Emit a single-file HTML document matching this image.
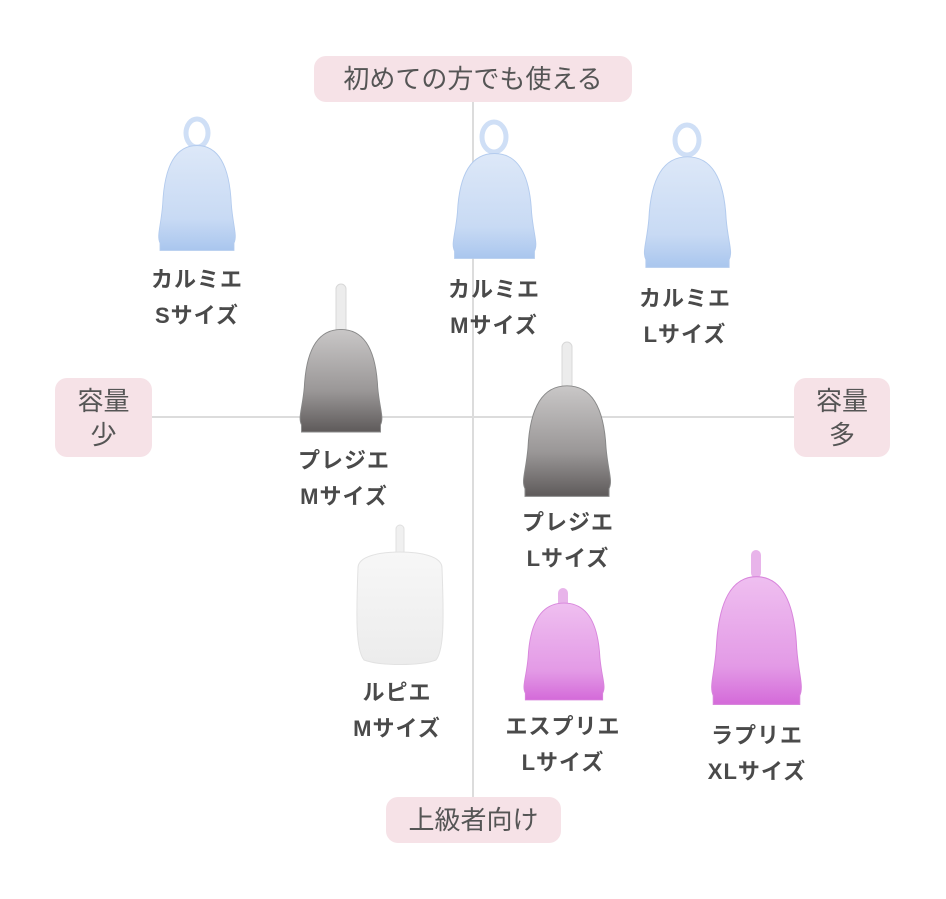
<!DOCTYPE html>
<html><head><meta charset="utf-8"><style>
body{margin:0;background:#fff;}
.w{position:relative;width:946px;height:899px;overflow:hidden;font-family:"Liberation Sans","Noto Sans CJK JP",sans-serif;}
svg{position:absolute;left:0;top:0;}
.pill{position:absolute;background:#f6e2e7;border-radius:12px;color:#555;font-size:26px;text-align:center;line-height:34px;}
.lb{position:absolute;width:140px;margin-left:-70px;text-align:center;color:#4a4a4a;font-size:22px;line-height:36px;font-weight:bold;letter-spacing:1px;}
</style></head><body><div class="w">
<svg width="946" height="899">
<defs>
<linearGradient id="bl" x1="0" y1="0" x2="0" y2="1"><stop offset="0" stop-color="#dde8f8"/><stop offset="0.7" stop-color="#c8daf4"/><stop offset="1" stop-color="#a9c6ee"/></linearGradient>
<linearGradient id="gr" x1="0" y1="0" x2="0" y2="1"><stop offset="0" stop-color="#c9c7c7"/><stop offset="0.6" stop-color="#9a9797"/><stop offset="1" stop-color="#5e5a5a"/></linearGradient>
<linearGradient id="wh" x1="0" y1="0" x2="0" y2="1"><stop offset="0" stop-color="#f7f7f7"/><stop offset="1" stop-color="#ececec"/></linearGradient>
<linearGradient id="pk" x1="0" y1="0" x2="0" y2="1"><stop offset="0" stop-color="#efbff0"/><stop offset="0.7" stop-color="#e39ae6"/><stop offset="1" stop-color="#d46ad9"/></linearGradient>
<path id="cup" d="M8 112 C4 104 9 94 11 70 C13 28 26 6 50 6 C74 6 87 28 89 70 C91 94 96 104 92 112 L92 120 L8 120 Z"/>
</defs>
<line x1="473" y1="100" x2="473" y2="800" stroke="#dcdcdc" stroke-width="2"/>
<line x1="150" y1="417" x2="795" y2="417" stroke="#dcdcdc" stroke-width="2"/>
<ellipse cx="197" cy="133" rx="11" ry="14" fill="none" stroke="#cfdff6" stroke-width="5"/>
<use href="#cup" transform="translate(153,140) scale(0.88,0.92)" fill="url(#bl)" stroke="#b3cbee"/>
<ellipse cx="494" cy="137" rx="12" ry="15" fill="none" stroke="#cfdff6" stroke-width="5"/>
<use href="#cup" transform="translate(447,148) scale(0.95,0.92)" fill="url(#bl)" stroke="#b3cbee"/>
<ellipse cx="687" cy="140" rx="12" ry="15" fill="none" stroke="#cfdff6" stroke-width="5"/>
<use href="#cup" transform="translate(638,151) scale(0.99,0.97)" fill="url(#bl)" stroke="#b3cbee"/>
<rect x="336" y="284" width="10" height="50" rx="5" fill="#ececec" stroke="#d8d8d8"/>
<use href="#cup" transform="translate(294,324) scale(0.94,0.9)" fill="url(#gr)" stroke="#888"/>
<rect x="562" y="342" width="10" height="48" rx="5" fill="#ececec" stroke="#d8d8d8"/>
<use href="#cup" transform="translate(517,380) scale(1,0.97)" fill="url(#gr)" stroke="#888"/>
<rect x="396" y="525" width="8" height="36" rx="4" fill="#f0f0f0" stroke="#e0e0e0"/>
<path d="M358 568 C358 556 380 552 400 552 C420 552 442 556 442 568 C444 620 444 650 436 660 C420 666 380 666 364 660 C356 650 356 620 358 568 Z" fill="url(#wh)" stroke="#e2e2e2"/>
<rect x="558" y="588" width="10" height="22" rx="5" fill="#e8b4ea"/>
<use href="#cup" transform="translate(518,598) scale(0.92,0.85)" fill="url(#pk)" stroke="#d885dc"/>
<rect x="751" y="550" width="10" height="28" rx="5" fill="#e8b4ea"/>
<use href="#cup" transform="translate(705,570) scale(1.03,1.12)" fill="url(#pk)" stroke="#d885dc"/>
</svg>
<div class="pill" style="left:314px;top:56px;width:318px;height:46px;line-height:46px;">初めての方でも使える</div>
<div class="pill" style="left:55px;top:378px;width:97px;height:79px;padding-top:6px;box-sizing:border-box;">容量<br>少</div>
<div class="pill" style="left:794px;top:378px;width:96px;height:79px;padding-top:6px;box-sizing:border-box;">容量<br>多</div>
<div class="pill" style="left:386px;top:797px;width:175px;height:46px;line-height:46px;">上級者向け</div>
<div class="lb" style="left:197px;top:262px;">カルミエ<br>Sサイズ</div>
<div class="lb" style="left:494px;top:272px;">カルミエ<br>Mサイズ</div>
<div class="lb" style="left:685px;top:281px;">カルミエ<br>Lサイズ</div>
<div class="lb" style="left:344px;top:443px;">プレジエ<br>Mサイズ</div>
<div class="lb" style="left:568px;top:505px;">プレジエ<br>Lサイズ</div>
<div class="lb" style="left:397px;top:675px;">ルピエ<br>Mサイズ</div>
<div class="lb" style="left:563px;top:709px;">エスプリエ<br>Lサイズ</div>
<div class="lb" style="left:757px;top:718px;">ラプリエ<br>XLサイズ</div>
</div></body></html>
